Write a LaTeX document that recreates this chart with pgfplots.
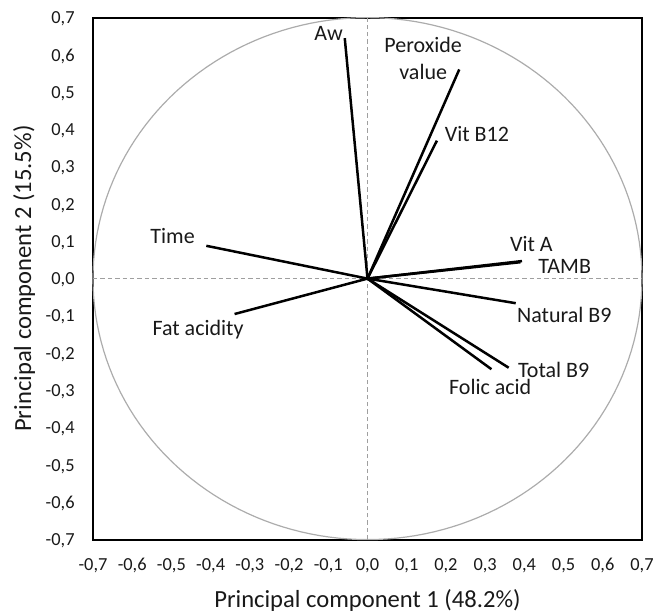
\documentclass[border=0pt]{standalone}
\usepackage{pgfplots}
\pgfplotsset{compat=1.18}
\usepackage{fontspec}
\setmainfont{Carlito}
\begin{document}
\begin{tikzpicture}
\begin{axis}[
  scale only axis,
  width=274.5pt, height=261pt,
  xmin=-0.7, xmax=0.7, ymin=-0.7, ymax=0.7,
  xtick={-0.7,-0.6,-0.5,-0.4,-0.3,-0.2,-0.1,0,0.1,0.2,0.3,0.4,0.5,0.6,0.7},
  ytick={-0.7,-0.6,-0.5,-0.4,-0.3,-0.2,-0.1,0,0.1,0.2,0.3,0.4,0.5,0.6,0.7},
  major tick length=0pt,
  axis line style={black, line width=1pt},
  /pgf/number format/.cd, assume math mode=true, use comma, fixed, fixed zerofill, precision=1,
  /pgfplots/.cd,
  tick label style={font=\fontsize{9.2}{10}\selectfont, text=black!90, inner sep=0pt},
  xticklabel style={anchor=base, yshift=-15.3pt},
  yticklabel style={anchor=east, text depth=0pt, xshift=-9pt},
  label style={font=\fontsize{12.3}{14}\selectfont, text=black!90, inner sep=0pt},
  xlabel={Principal component 1 (48.2\%)},
  ylabel={Principal component 2 (15.5\%)},
  xlabel style={at={(axis description cs:0.5,0)}, anchor=base, yshift=-34pt},
  ylabel style={at={([xshift=-34.5pt]axis description cs:0,0.5)}, anchor=center},
  clip=false,
]
\coordinate (ll) at (rel axis cs:0,0);
\coordinate (ur) at (rel axis cs:1,1);
% reference circle (radius 0.7)
\addplot[gray!65, line width=0.6pt, domain=0:360, samples=181] ({0.7*cos(x)},{0.7*sin(x)});
% dashed zero lines
\addplot[gray!75, dash pattern=on 2.2pt off 1.5pt, line width=0.6pt] coordinates {(-0.7,0) (0.7,0)};
\addplot[gray!75, dash pattern=on 2.2pt off 1.5pt, line width=0.6pt] coordinates {(0,-0.7) (0,0.7)};
% loading vectors
\pgfplotsset{vec/.style={black, line width=1.25pt}}
\addplot[vec] coordinates {(0,0) (-0.058,0.645)};   % Aw
\addplot[vec] coordinates {(0,0) (0.234,0.561)};    % Peroxide value
\addplot[vec] coordinates {(0,0) (0.177,0.370)};    % Vit B12
\addplot[vec] coordinates {(0,0) (0.394,0.047)};    % Vit A
\addplot[vec] coordinates {(0,0) (0.390,0.044)};    % TAMB
\addplot[vec] coordinates {(0,0) (-0.411,0.088)};   % Time
\addplot[vec] coordinates {(0,0) (-0.339,-0.095)};  % Fat acidity
\addplot[vec] coordinates {(0,0) (0.378,-0.066)};   % Natural B9
\addplot[vec] coordinates {(0,0) (0.360,-0.239)};   % Total B9
\addplot[vec] coordinates {(0,0) (0.316,-0.243)};   % Folic acid
% labels
\tikzset{lab/.style={font=\fontsize{11}{13.5}\selectfont, text=black!90, inner sep=0pt}}
\node[lab] at (axis cs:-0.099,0.657) {Aw};
\node[lab, align=center] at (axis cs:0.142,0.591) {Peroxide\\value};
\node[lab] at (axis cs:0.279,0.389) {Vit B12};
\node[lab] at (axis cs:0.418,0.094) {Vit A};
\node[lab] at (axis cs:0.503,0.032) {TAMB};
\node[lab] at (axis cs:-0.497,0.113) {Time};
\node[lab] at (axis cs:-0.432,-0.138) {Fat acidity};
\node[lab] at (axis cs:0.502,-0.097) {Natural B9};
\node[lab] at (axis cs:0.475,-0.245) {Total B9};
\node[lab] at (axis cs:0.313,-0.290) {Folic acid};
\end{axis}
\pgfresetboundingbox
\path[use as bounding box] ([shift={(-46.5pt,-37.7pt)}]ll) rectangle ([shift={(7pt,8.8pt)}]ur);
\end{tikzpicture}
\end{document}
